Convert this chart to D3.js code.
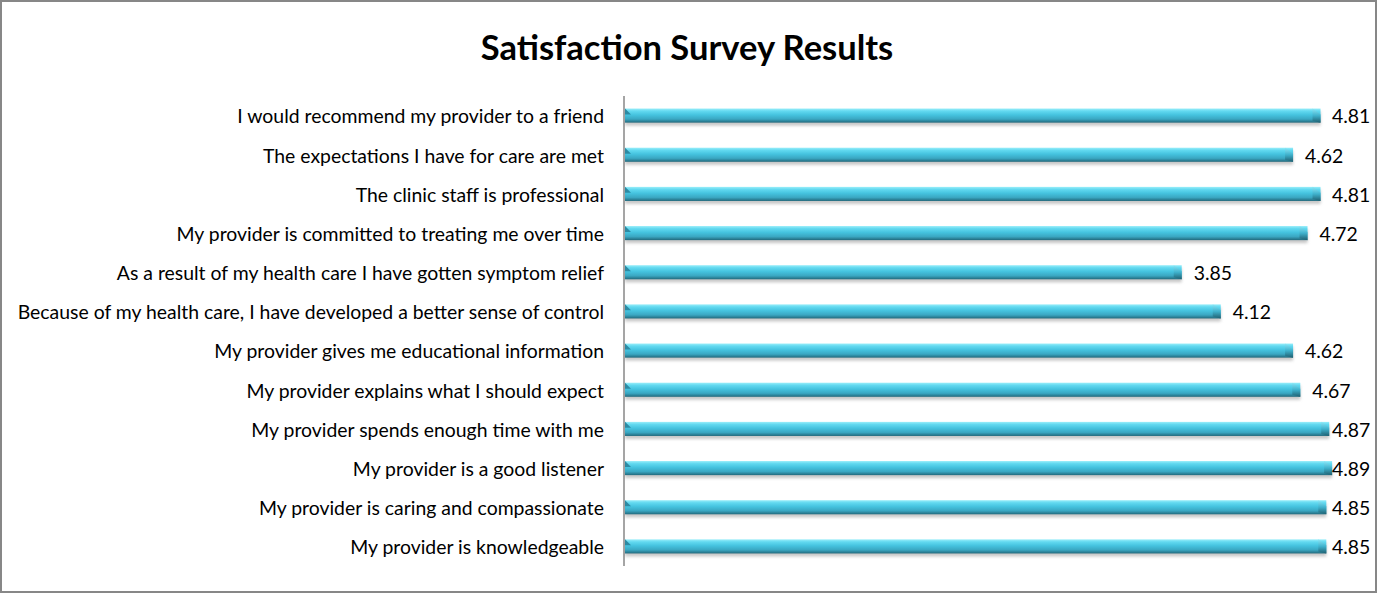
<!DOCTYPE html>
<html>
<head>
<meta charset="utf-8">
<script src="https://cdn.jsdelivr.net/npm/d3@7"></script>
<style>
  body { margin: 0; background: #fff; }
  svg { display: block; }
</style>
</head>
<body>
<svg id="chart"></svg>
<script>
const categories = [
    "I would recommend my provider to a friend",
    "The expectations I have for care are met",
    "The clinic staff is professional",
    "My provider is committed to treating me over time",
    "As a result of my health care I have gotten symptom relief",
    "Because of my health care, I have developed a better sense of control",
    "My provider gives me educational information",
    "My provider explains what I should expect",
    "My provider spends enough time with me",
    "My provider is a good listener",
    "My provider is caring and compassionate",
    "My provider is knowledgeable"
];
const scores = [4.81, 4.62, 4.81, 4.72, 3.85, 4.12, 4.62, 4.67, 4.87, 4.89, 4.85, 4.85];
const title = "Satisfaction Survey Results";

const W = 1377, H = 594;
const svg = d3.select("#chart").attr("width", W).attr("height", H);

// gradients / shadow
const defs = svg.append("defs");
const grad = defs.append("linearGradient")
    .attr("id", "barGrad").attr("x1", 0).attr("y1", 0).attr("x2", 0).attr("y2", 1);
[["0%", "#9aeefa"], ["18%", "#62d9f0"], ["45%", "#45c3df"], ["75%", "#3aa7c2"], ["100%", "#22697c"]]
    .forEach(s => grad.append("stop").attr("offset", s[0]).attr("stop-color", s[1]));
const capGrad = defs.append("linearGradient")
    .attr("id", "capGrad").attr("x1", 0).attr("y1", 0).attr("x2", 0).attr("y2", 1);
[["0%", "#8ee6f6"], ["50%", "#3fb2cd"], ["100%", "#1f5f70"]]
    .forEach(s => capGrad.append("stop").attr("offset", s[0]).attr("stop-color", s[1]));
const blur = defs.append("filter").attr("id", "shadow")
    .attr("x", "-5%").attr("y", "-50%").attr("width", "110%").attr("height", "200%");
blur.append("feGaussianBlur").attr("stdDeviation", 1.6);

// outer border
svg.append("rect")
    .attr("x", 1).attr("y", 1).attr("width", W - 2).attr("height", H - 3)
    .attr("fill", "#fff").attr("stroke", "#878787").attr("stroke-width", 2);

svg.append("text")
    .attr("x", 687).attr("y", 60)
    .attr("text-anchor", "middle")
    .style("font-family", "Lato, 'Open Sans', sans-serif")
    .style("font-weight", "bold")
    .style("font-size", "34.5px")
    .attr("fill", "#000")
    .text(title);

const x = d3.scaleLinear().domain([0, 5]).range([625, 1348]);
const y = d3.scaleBand().domain(categories).range([96, 566]).paddingInner(0.64).paddingOuter(0.32);
const bh = y.bandwidth();

const labelFont = "19.4px";

// category labels
svg.append("g").selectAll("text")
    .data(categories)
    .join("text")
    .attr("x", 604)
    .attr("y", d => y(d) + bh / 2 + 1)
    .attr("dy", "0.35em")
    .attr("text-anchor", "end")
    .style("font-family", "Lato, 'Open Sans', sans-serif")
    .style("font-size", labelFont)
    .attr("fill", "#000")
    .text(d => d);

const bars = svg.append("g").selectAll("g")
    .data(categories.map((c, i) => ({ c, v: scores[i] })))
    .join("g");

// shadow under the bar
bars.append("rect")
    .attr("x", x(0))
    .attr("y", d => y(d.c) + 3)
    .attr("width", d => x(d.v) - x(0))
    .attr("height", bh)
    .attr("fill", "#9a9a9a")
    .attr("opacity", 0.55)
    .attr("filter", "url(#shadow)");

bars.append("rect")
    .attr("x", x(0))
    .attr("y", d => y(d.c))
    .attr("width", d => x(d.v) - x(0))
    .attr("height", bh)
    .attr("fill", "url(#barGrad)");

// bevelled end of each bar
bars.append("path")
    .attr("d", d => {
        const x1 = x(d.v), t = y(d.c), b = t + bh;
        return `M${x1 - 8},${t} L${x1},${t + 6} L${x1},${b} L${x1 - 8},${b - 2} Z`;
    })
    .attr("fill", "url(#capGrad)");

bars.append("path")
    .attr("d", d => {
        const x0 = x(0), t = y(d.c);
        return `M${x0},${t} L${x0 + 6},${t + 6} L${x0},${t + 6} Z`;
    })
    .attr("fill", "#2c8aa3");

// value labels (kept inside the chart area like Excel does)
svg.append("g").selectAll("text")
    .data(categories.map((c, i) => ({ c, v: scores[i] })))
    .join("text")
    .attr("x", d => Math.min(x(d.v) + 12, 1332))
    .attr("y", d => y(d.c) + bh / 2 + 1)
    .attr("dy", "0.35em")
    .style("font-family", "Lato, 'Open Sans', sans-serif")
    .style("font-size", labelFont)
    .attr("fill", "#000")
    .text(d => d3.format(".2f")(d.v));

// category axis line
svg.append("line")
    .attr("x1", 624).attr("x2", 624)
    .attr("y1", 96).attr("y2", 566)
    .attr("stroke", "#878787").attr("stroke-width", 1.5);
</script>
</body>
</html>
